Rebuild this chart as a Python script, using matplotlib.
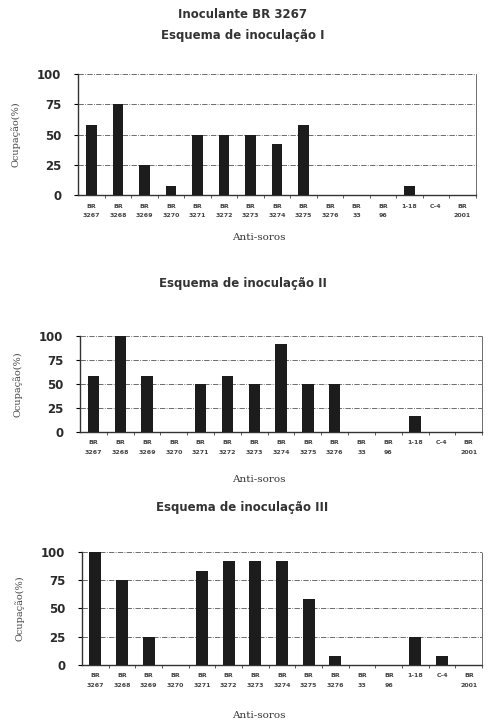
import numpy as np
from matplotlib import pyplot as plt

# Dados
categorias = ['BR\n3267', 'BR\n3268', 'BR\n3269', 'BR\n3270', 'BR\n3271',
              'BR\n3272', 'BR\n3273', 'BR\n3274', 'BR\n3275', 'BR\n3276',
              'BR\n33', 'BR\n96', '1-18\n', 'C-4\n', 'BR\n2001']
esquema_1 = [58, 75, 25, 8, 50, 50, 50, 42, 58, 0, 0, 0, 8, 0, 0]
esquema_2 = [58, 100, 58, 0, 50, 58, 50, 92, 50, 50, 0, 0, 17, 0, 0]
esquema_3 = [100, 75, 25, 0, 83, 92, 92, 92, 58, 8, 0, 0, 25, 8, 0]
yticks = [0, 25, 50, 75, 100]

fig = plt.figure(figsize=(4.88, 7.26), dpi=100)

paineis = [
    (esquema_1, [0.160, 0.731, 0.815, 0.167], 'Esquema de inoculação I', 35, 238, 0.40),
    (esquema_2, [0.164, 0.405, 0.824, 0.132], 'Esquema de inoculação II', 283, 480, 0.42),
    (esquema_3, [0.168, 0.084, 0.820, 0.156], 'Esquema de inoculação III', 508, 716, 0.45),
]

fig.text(0.497, 1 - 14 / 726, 'Inoculante BR 3267', ha='center', va='center',
         fontsize=8.5, fontweight='bold', color='#333333')

for valores, pos, titulo, y_tit, y_xlab, larg in paineis:
    ax = fig.add_axes(pos)
    x = np.arange(len(categorias))
    ax.bar(x, valores, width=larg, color='#1c1c1c', zorder=3)
    ax.set_xlim(-0.5, len(categorias) - 0.5)
    ax.set_ylim(0, 100)
    ax.set_yticks(yticks)
    ax.set_yticklabels([str(v) for v in yticks], fontsize=8.5, fontweight='bold', color='#2a2a2a')
    ax.set_xticks(x)
    ax.set_xticklabels(categorias, fontsize=4.5, fontweight='bold', color='#444444', linespacing=2.2)
    ax.set_xticks(x + 0.5, minor=True)
    ax.tick_params(axis='x', which='major', length=0, pad=6)
    ax.tick_params(axis='x', which='minor', length=2, direction='out', color='#444444')
    ax.tick_params(axis='y', length=3, direction='out', width=0.8, pad=9)
    ax.yaxis.grid(True, linestyle='-.', linewidth=0.6, color='#555555', zorder=0)
    ax.spines['top'].set_visible(False)
    for lado in ['left', 'bottom']:
        ax.spines[lado].set_linewidth(1.0)
        ax.spines[lado].set_color('#333333')
    ax.spines['right'].set_linewidth(0.6)
    ax.spines['right'].set_color('#555555')
    ax.spines['right'].set_linestyle((0, (3, 1)))
    ax.set_ylabel('Ocupação(%)', fontsize=7, family='DejaVu Serif', color='#444444', labelpad=12)

    fig.text(0.497, 1 - y_tit / 726, titulo, ha='center', va='center',
             fontsize=8.5, fontweight='bold', color='#333333')
    fig.text(0.53, 1 - y_xlab / 726, 'Anti-soros', ha='center', va='center',
             fontsize=7.5, family='DejaVu Serif', color='#333333')

plt.savefig('out.png', dpi=100)
